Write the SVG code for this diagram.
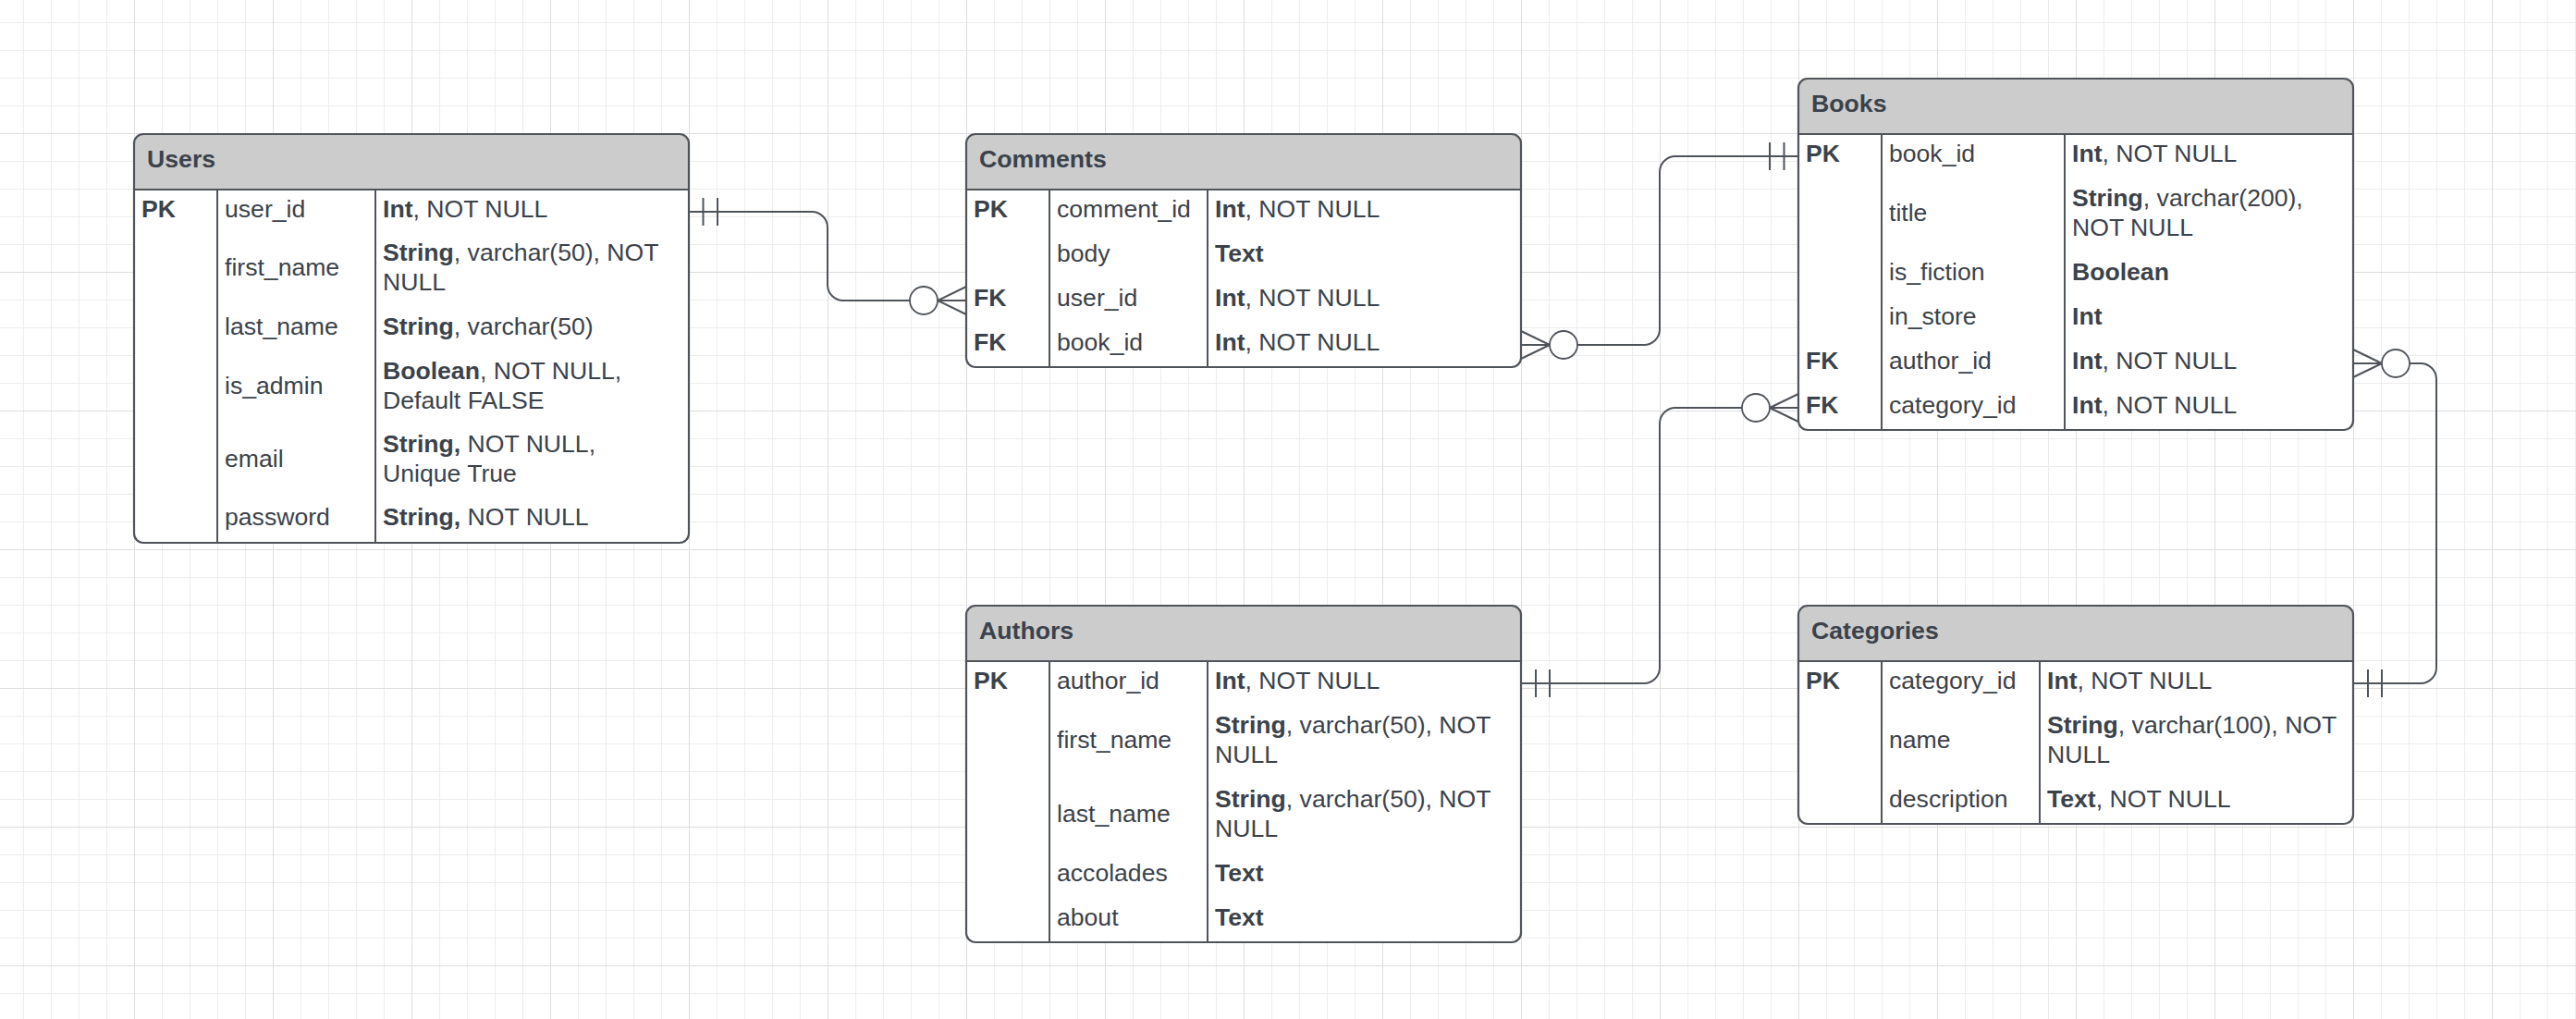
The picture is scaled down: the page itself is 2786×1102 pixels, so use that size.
<svg xmlns="http://www.w3.org/2000/svg" width="2786" height="1102" viewBox="0 0 2786 1102">
<defs>
<pattern id="gMinor" patternUnits="userSpaceOnUse" x="25" y="24" width="30" height="30">
<path d="M0 0.5H30M0.5 0V30" stroke="#ededed" stroke-width="1" fill="none"/>
</pattern>
<pattern id="gMajor" patternUnits="userSpaceOnUse" x="145" y="144" width="150" height="150">
<path d="M0 0.5H150M0.5 0V150" stroke="#dedede" stroke-width="1" fill="none"/>
</pattern>
</defs>
<style>
.tb{fill:#ffffff;stroke:none}
.ol{fill:none;stroke:#4f545b;stroke-width:2.2}
.hd{fill:#cccccc}
.ln{stroke:#4f545b;stroke-width:2;fill:none}
.t{font-family:"Liberation Sans",Arial,sans-serif;font-size:26.6px;fill:#3b424b}
.b{font-weight:bold}
.h{font-family:"Liberation Sans",Arial,sans-serif;font-size:26.67px;font-weight:bold;fill:#3b424b}
.cn{fill:none;stroke:#4f545b;stroke-width:2}
.ci{fill:#ffffff;stroke:#4f545b;stroke-width:1.8}
</style>
<rect x="0" y="0" width="2786" height="1102" fill="#ffffff"/>
<rect x="0" y="0" width="2786" height="1102" fill="url(#gMinor)"/>
<rect x="0" y="0" width="2786" height="1102" fill="url(#gMajor)"/>

<g id="users" transform="translate(145,145)">
<rect class="tb" x="0" y="0" width="600" height="442" rx="10"/>
<path class="hd" d="M0 60V10A10 10 0 0 1 10 0H590A10 10 0 0 1 600 10V60Z"/>
<path class="ln" d="M0 60H600M90 60V442M261 60V442"/>
<rect class="ol" x="0" y="0" width="600" height="442" rx="10"/>
<text class="h" x="14" y="36">Users</text>
<text class="t b" x="8" y="89.5">PK</text>
<text class="t" x="98" y="89.5">user_id</text>
<text class="t" x="269" y="89.5"><tspan class="b">Int</tspan>, NOT NULL</text>
<text class="t" x="98" y="153.2">first_name</text>
<text class="t" x="269" y="137.2"><tspan class="b">String</tspan>, varchar(50), NOT</text>
<text class="t" x="269" y="169.2">NULL</text>
<text class="t" x="98" y="216.8">last_name</text>
<text class="t" x="269" y="216.8"><tspan class="b">String</tspan>, varchar(50)</text>
<text class="t" x="98" y="280.5">is_admin</text>
<text class="t" x="269" y="264.5"><tspan class="b">Boolean</tspan>, NOT NULL,</text>
<text class="t" x="269" y="296.5">Default FALSE</text>
<text class="t" x="98" y="359.8">email</text>
<text class="t" x="269" y="343.8"><tspan class="b">String,</tspan> NOT NULL,</text>
<text class="t" x="269" y="375.8">Unique True</text>
<text class="t" x="98" y="423.4">password</text>
<text class="t" x="269" y="423.4"><tspan class="b">String,</tspan> NOT NULL</text>
</g>

<g id="comments" transform="translate(1045,145)">
<rect class="tb" x="0" y="0" width="600" height="252" rx="10"/>
<path class="hd" d="M0 60V10A10 10 0 0 1 10 0H590A10 10 0 0 1 600 10V60Z"/>
<path class="ln" d="M0 60H600M90 60V252M261 60V252"/>
<rect class="ol" x="0" y="0" width="600" height="252" rx="10"/>
<text class="h" x="14" y="36">Comments</text>
<text class="t b" x="8" y="89.5">PK</text>
<text class="t" x="98" y="89.5">comment_id</text>
<text class="t" x="269" y="89.5"><tspan class="b">Int</tspan>, NOT NULL</text>
<text class="t" x="98" y="137.5">body</text>
<text class="t b" x="269" y="137.5">Text</text>
<text class="t b" x="8" y="185.5">FK</text>
<text class="t" x="98" y="185.5">user_id</text>
<text class="t" x="269" y="185.5"><tspan class="b">Int</tspan>, NOT NULL</text>
<text class="t b" x="8" y="233.5">FK</text>
<text class="t" x="98" y="233.5">book_id</text>
<text class="t" x="269" y="233.5"><tspan class="b">Int</tspan>, NOT NULL</text>
</g>

<g id="books" transform="translate(1945,85)">
<rect class="tb" x="0" y="0" width="600" height="380" rx="10"/>
<path class="hd" d="M0 60V10A10 10 0 0 1 10 0H590A10 10 0 0 1 600 10V60Z"/>
<path class="ln" d="M0 60H600M90 60V380M288 60V380"/>
<rect class="ol" x="0" y="0" width="600" height="380" rx="10"/>
<text class="h" x="14" y="36">Books</text>
<text class="t b" x="8" y="89.5">PK</text>
<text class="t" x="98" y="89.5">book_id</text>
<text class="t" x="296" y="89.5"><tspan class="b">Int</tspan>, NOT NULL</text>
<text class="t" x="98" y="153.5">title</text>
<text class="t" x="296" y="137.5"><tspan class="b">String</tspan>, varchar(200),</text>
<text class="t" x="296" y="169.5">NOT NULL</text>
<text class="t" x="98" y="217.5">is_fiction</text>
<text class="t b" x="296" y="217.5">Boolean</text>
<text class="t" x="98" y="265.5">in_store</text>
<text class="t b" x="296" y="265.5">Int</text>
<text class="t b" x="8" y="313.5">FK</text>
<text class="t" x="98" y="313.5">author_id</text>
<text class="t" x="296" y="313.5"><tspan class="b">Int</tspan>, NOT NULL</text>
<text class="t b" x="8" y="361.5">FK</text>
<text class="t" x="98" y="361.5">category_id</text>
<text class="t" x="296" y="361.5"><tspan class="b">Int</tspan>, NOT NULL</text>
</g>

<g id="authors" transform="translate(1045,655)">
<rect class="tb" x="0" y="0" width="600" height="364" rx="10"/>
<path class="hd" d="M0 60V10A10 10 0 0 1 10 0H590A10 10 0 0 1 600 10V60Z"/>
<path class="ln" d="M0 60H600M90 60V364M261 60V364"/>
<rect class="ol" x="0" y="0" width="600" height="364" rx="10"/>
<text class="h" x="14" y="36">Authors</text>
<text class="t b" x="8" y="89.5">PK</text>
<text class="t" x="98" y="89.5">author_id</text>
<text class="t" x="269" y="89.5"><tspan class="b">Int</tspan>, NOT NULL</text>
<text class="t" x="98" y="153.5">first_name</text>
<text class="t" x="269" y="137.5"><tspan class="b">String</tspan>, varchar(50), NOT</text>
<text class="t" x="269" y="169.5">NULL</text>
<text class="t" x="98" y="233.5">last_name</text>
<text class="t" x="269" y="217.5"><tspan class="b">String</tspan>, varchar(50), NOT</text>
<text class="t" x="269" y="249.5">NULL</text>
<text class="t" x="98" y="297.5">accolades</text>
<text class="t b" x="269" y="297.5">Text</text>
<text class="t" x="98" y="345.5">about</text>
<text class="t b" x="269" y="345.5">Text</text>
</g>

<g id="categories" transform="translate(1945,655)">
<rect class="tb" x="0" y="0" width="600" height="236" rx="10"/>
<path class="hd" d="M0 60V10A10 10 0 0 1 10 0H590A10 10 0 0 1 600 10V60Z"/>
<path class="ln" d="M0 60H600M90 60V236M261 60V236"/>
<rect class="ol" x="0" y="0" width="600" height="236" rx="10"/>
<text class="h" x="14" y="36">Categories</text>
<text class="t b" x="8" y="89.5">PK</text>
<text class="t" x="98" y="89.5">category_id</text>
<text class="t" x="269" y="89.5"><tspan class="b">Int</tspan>, NOT NULL</text>
<text class="t" x="98" y="153.5">name</text>
<text class="t" x="269" y="137.5"><tspan class="b">String</tspan>, varchar(100), NOT</text>
<text class="t" x="269" y="169.5">NULL</text>
<text class="t" x="98" y="217.5">description</text>
<text class="t" x="269" y="217.5"><tspan class="b">Text</tspan>, NOT NULL</text>
</g>

<g id="connectors">
<!-- Users.user_id -> Comments.user_id -->
<path class="cn" d="M745 229H878A17 17 0 0 1 895 246V308A17 17 0 0 0 912 325H984"/>
<path class="cn" d="M760.5 214V244M776 214V244"/>
<path class="cn" d="M1014 325L1045 310M1014 325H1045M1014 325L1045 340"/>
<circle class="ci" cx="999" cy="325" r="15"/>
<!-- Comments.book_id -> Books.book_id -->
<path class="cn" d="M1706 373H1778A17 17 0 0 0 1795 356V186A17 17 0 0 1 1812 169H1945"/>
<path class="cn" d="M1914 154V184M1929.5 154V184"/>
<path class="cn" d="M1676 373L1645 358M1676 373H1645M1676 373L1645 388"/>
<circle class="ci" cx="1691" cy="373" r="15"/>
<!-- Authors.author_id -> Books.category_id -->
<path class="cn" d="M1645 739H1778A17 17 0 0 0 1795 722V458A17 17 0 0 1 1812 441H1884"/>
<path class="cn" d="M1661 724V754M1676 724V754"/>
<path class="cn" d="M1914 441L1945 426M1914 441H1945M1914 441L1945 456"/>
<circle class="ci" cx="1899" cy="441" r="15"/>
<!-- Books.author_id -> Categories.category_id -->
<path class="cn" d="M2606 393H2618A17 17 0 0 1 2635 410V722A17 17 0 0 1 2618 739H2545"/>
<path class="cn" d="M2561 724V754M2576 724V754"/>
<path class="cn" d="M2576 393L2545 378M2576 393H2545M2576 393L2545 408"/>
<circle class="ci" cx="2591" cy="393" r="15"/>
</g>
</svg>
